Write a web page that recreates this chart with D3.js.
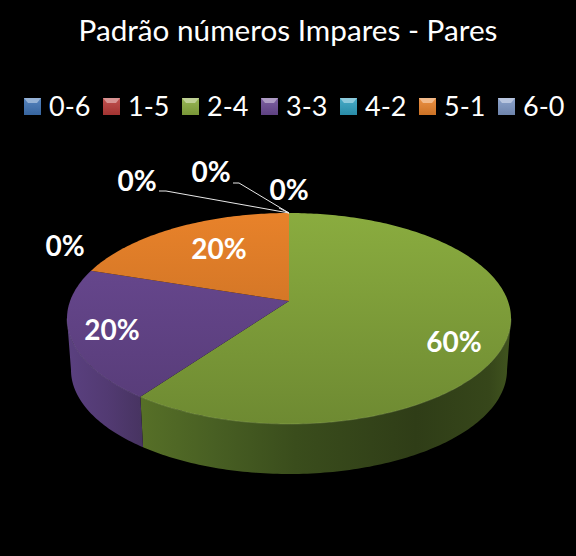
<!DOCTYPE html>
<html>
<head>
<meta charset="utf-8">
<script src="https://cdn.jsdelivr.net/npm/d3@7"></script>
<style>
    html, body { margin: 0; padding: 0; background: #000; }
    svg { display: block; }
    text { font-family: Lato, "Open Sans", sans-serif; fill: #fff; }
</style>
</head>
<body>
<div id="content"></div>
<script>
var titulo = "Padrão números Impares - Pares";
var categorias = ["0-6", "1-5", "2-4", "3-3", "4-2", "5-1", "6-0"];
var valores = [0, 0, 60, 20, 0, 20, 0];
var rotulos = ["0%", "0%", "60%", "20%", "0%", "20%", "0%"];
var cores = ["#3f73b5", "#b83a38", "#8aac3f", "#6b4a94", "#2f9fbf", "#e8822a", "#7d96c4"];

var largura = 576, altura = 556;

// where each label sits, same order as categorias
var posRotulo = [[137, 181], [211, 172], [454, 342], [112, 330], [289, 190], [219, 249], [65, 246]];
var guias = [[[159, 191], [166, 191]], [[233, 183], [239, 183]], null, null, [[279, 208], [279, 208]], null, null];

var cx = 289, cy = 318.5, rx = 222, ry = 105.5, prof = 51.5;
var a = 0.166; // perspective of the tilted disc

// unit circle -> screen, z = 0 top face, z = 1 bottom face
function projeta(ang, r, z) {
    var u = r * Math.sin(ang), v = r * Math.cos(ang);
    var w = 1 + a * v;
    var x2 = u * Math.sqrt(1 - a * a) / w;
    var y2 = (v + a) / w;
    return [cx + x2 * (rx - 4 * z), cy + prof * z - y2 * (ry - 1.5 * z)];
}

function arco(a0, a1, z) {
    var n = Math.max(2, Math.ceil(Math.abs(a1 - a0) * 60));
    return d3.range(n + 1).map(function(i) { return projeta(a0 + (a1 - a0) * i / n, 1, z); });
}

var linha = d3.line();

var svg = d3.select("#content").append("svg")
    .attr("width", largura).attr("height", altura);
var defs = svg.append("defs");

function gradiente(id, x1, y1, x2, y2, paradas) {
    var g = defs.append("linearGradient").attr("id", id)
        .attr("gradientUnits", "userSpaceOnUse")
        .attr("x1", x1).attr("y1", y1).attr("x2", x2).attr("y2", y2);
    paradas.forEach(function(p) {
        g.append("stop").attr("offset", p[0]).attr("stop-color", p[1]);
    });
}

function topoGrad(cor, i) {
    gradiente("topo" + i, 0, cy - ry, 0, cy + ry, [
        [0, cor],
        [1, d3.interpolateRgb(cor, "#000")(0.2)]
    ]);
}
cores.forEach(topoGrad);

gradiente("parede2", 142, 0, 507, 0, [
    [0, "#566f27"], [0.2, "#485f23"], [0.42, "#3a4d1c"],
    [0.75, "#2f3d17"], [0.95, "#36461a"], [1, "#3f521e"]
]);
gradiente("parede3", 70, 0, 146, 0, [
    [0, "#5a407f"], [0.5, "#523a72"], [1, "#46335f"]
]);

var fatias = d3.pie().sort(null).value(function(d) { return d; })(valores);

var frenteIni = Math.acos(-a), frenteFim = 2 * Math.PI - frenteIni;

// side wall, only the part facing us
var paredes = svg.append("g");
fatias.forEach(function(f, i) {
    if (f.value == 0) return;
    var a0 = Math.max(f.startAngle, frenteIni), a1 = Math.min(f.endAngle, frenteFim);
    if (a1 <= a0) return;
    var pts = arco(a0, a1, 0).concat(arco(a0, a1, 1).reverse());
    paredes.append("path")
        .attr("d", linha(pts) + "Z")
        .attr("fill", "url(#parede" + i + ")");
});

// top face
var topo = svg.append("g");
fatias.forEach(function(f, i) {
    if (f.value == 0) return;
    var pts = [projeta(0, 0, 0)].concat(arco(f.startAngle, f.endAngle, 0));
    topo.append("path")
        .attr("d", linha(pts) + "Z")
        .attr("fill", "url(#topo" + i + ")");
    // little highlight on the rim
    var a0 = Math.max(f.startAngle, frenteIni), a1 = Math.min(f.endAngle, frenteFim);
    if (a1 > a0) {
        topo.append("path")
            .attr("d", linha(arco(a0, a1, 0)))
            .attr("fill", "none")
            .attr("stroke", d3.interpolateRgb(cores[i], "#fff")(0.25))
            .attr("stroke-opacity", 0.3)
            .attr("stroke-width", 1);
    }
});

// leader lines of the empty slices
var ponta = projeta(0, 1, 0);
guias.forEach(function(g) {
    if (!g) return;
    svg.append("path")
        .attr("d", linha(g.concat([ponta])))
        .attr("fill", "none")
        .attr("stroke", "#e8e8e8")
        .attr("stroke-width", 1);
});

svg.selectAll("text.rotulo")
    .data(rotulos)
    .enter()
    .append("text")
        .attr("class", "rotulo")
        .attr("x", function(d, i) { return posRotulo[i][0]; })
        .attr("y", function(d, i) { return posRotulo[i][1]; })
        .attr("dy", "0.35em")
        .attr("text-anchor", "middle")
        .style("font-size", "28px")
        .style("font-weight", "700")
        .text(function(d) { return d; });

svg.append("text")
    .attr("x", 288).attr("y", 41)
    .attr("text-anchor", "middle")
    .style("font-size", "29.7px")
    .text(titulo);

// legend
var xLegenda = d3.scalePoint().domain(categorias).range([24, 498]);
var lado = 17;

cores.forEach(function(cor, i) {
    gradiente("leg" + i, 0, 0, 0, 1, [[0, d3.interpolateRgb(cor, "#fff")(0.12)], [1, d3.interpolateRgb(cor, "#000")(0.12)]]);
    defs.select("#leg" + i).attr("gradientUnits", "objectBoundingBox");
});

var legenda = svg.selectAll("g.leg")
    .data(categorias)
    .enter()
    .append("g")
        .attr("class", "leg")
        .attr("transform", function(d) { return "translate(" + xLegenda(d) + ",98)"; });

legenda.append("rect")
    .attr("width", lado).attr("height", lado)
    .attr("fill", function(d, i) { return "url(#leg" + i + ")"; });

// light bevel on the top of the swatch
legenda.append("path")
    .attr("d", linha([[0, 0], [lado, 0], [lado - 4, 5], [4, 5]]) + "Z")
    .attr("fill", function(d, i) { return d3.interpolateRgb(cores[i], "#fff")(0.45); });

legenda.append("text")
    .attr("x", 25).attr("y", 18)
    .style("font-size", "27px")
    .text(function(d) { return d; });
</script>
</body>
</html>
